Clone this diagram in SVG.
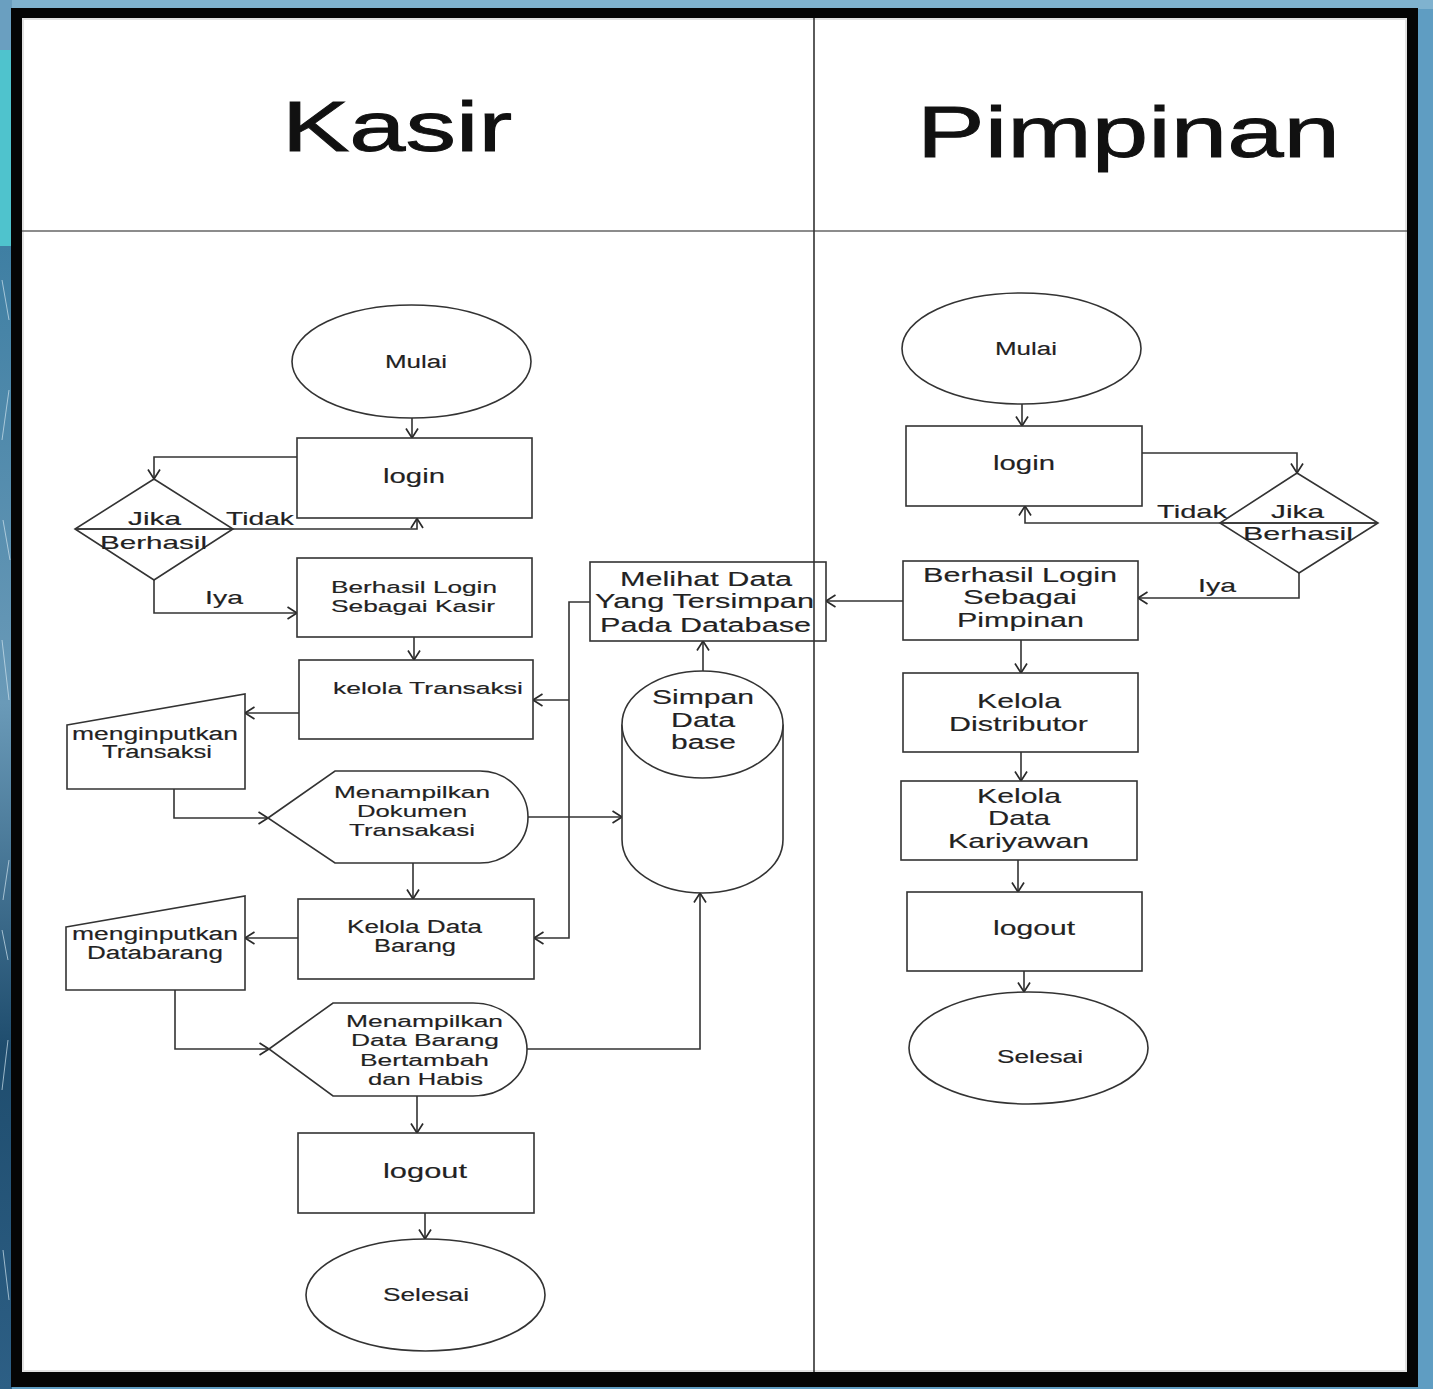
<svg xmlns="http://www.w3.org/2000/svg" width="1433" height="1389" viewBox="0 0 1433 1389">
<defs>
<linearGradient id="leftbg" x1="0" y1="0" x2="0" y2="1">
<stop offset="0" stop-color="#3f7fa3"/>
<stop offset="0.4" stop-color="#6a9ab8"/>
<stop offset="0.7" stop-color="#1f4d6e"/>
<stop offset="1" stop-color="#2d5f85"/>
</linearGradient>
<marker id="ar" viewBox="0 0 14 14" refX="12" refY="7" markerWidth="14" markerHeight="14" orient="auto" markerUnits="userSpaceOnUse">
<path d="M2.5,1 L12,7 L2.5,13" fill="none" stroke="#2a2a2a" stroke-width="1.7"/>
</marker>
</defs>
<style>
.sh{fill:#fff;stroke:#333;stroke-width:1.6}
.cn{fill:none;stroke:#333;stroke-width:1.6;marker-end:url(#ar)}
.ln{fill:none;stroke:#333;stroke-width:1.6}
.t{font-family:"Liberation Sans",Arial,sans-serif;fill:#222;stroke:#222;stroke-width:0.15}
.hd{font-family:"Liberation Sans",Arial,sans-serif;fill:#111;stroke:#111;stroke-width:0.9}
</style>
<!-- background frame -->
<rect x="0" y="0" width="1433" height="1389" fill="#5f9dc2"/>
<rect x="0" y="0" width="1433" height="9" fill="#7fb2cf"/>
<rect x="0" y="0" width="12" height="50" fill="#6a9fc0"/>
<rect x="0" y="50" width="12" height="196" fill="#4fc3cd"/>
<rect x="0" y="246" width="12" height="1143" fill="url(#leftbg)"/>
<g stroke="#cfe3ee" stroke-width="1" opacity="0.7">
<line x1="2" y1="280" x2="9" y2="320"/><line x1="9" y1="390" x2="2" y2="440"/>
<line x1="3" y1="520" x2="10" y2="560"/><line x1="2" y1="640" x2="9" y2="700"/>
<line x1="9" y1="860" x2="3" y2="900"/><line x1="2" y1="930" x2="8" y2="960"/>
<line x1="8" y1="1040" x2="2" y2="1090"/><line x1="3" y1="1250" x2="9" y2="1300"/>
</g>
<rect x="11" y="8" width="1407" height="1379" fill="#050505"/>
<rect x="22" y="18" width="1385" height="1354" fill="#ffffff"/>
<rect x="23" y="19" width="1383" height="1352" fill="none" stroke="#e2e2e2" stroke-width="2"/>

<!-- lanes -->
<g id="lanes">
<line x1="22" y1="231" x2="1407" y2="231" stroke="#666" stroke-width="1.5"/>
<text class="hd" x="282" y="151" font-size="70" textLength="230" lengthAdjust="spacingAndGlyphs">Kasir</text>
<text class="hd" x="917" y="157" font-size="73" textLength="423" lengthAdjust="spacingAndGlyphs">Pimpinan</text>
</g>

<!-- connectors -->
<g id="connectors">
<path class="cn" d="M412,418 V438"/>
<path class="cn" d="M297,457 H154 V479"/>
<path class="cn" d="M75,529 H417 V518.5"/>
<path class="cn" d="M154,580 V613 H297"/>
<path class="cn" d="M414,637 V660"/>
<path class="cn" d="M299,713 H245"/>
<path class="cn" d="M174,789 V818 H268"/>
<path class="cn" d="M528,817 H622"/>
<path class="cn" d="M413,863 V899"/>
<path class="cn" d="M590,602 H569 V938 H534"/>
<path class="cn" d="M569,700 H533"/>
<path class="cn" d="M298,938 H245"/>
<path class="cn" d="M175,990 V1049 H269"/>
<path class="cn" d="M527,1049 H700 V893"/>
<path class="cn" d="M703,671 V641"/>
<path class="cn" d="M417,1096 V1133"/>
<path class="cn" d="M425,1213 V1239"/>
<path class="cn" d="M1022,404 V426"/>
<path class="cn" d="M1142,453 H1297 V473"/>
<path class="cn" d="M1378,523 H1025 V506"/>
<path class="cn" d="M1299,573 V598 H1138"/>
<path class="cn" d="M903,601 H826"/>
<path class="cn" d="M1021,640 V673"/>
<path class="cn" d="M1021,752 V781"/>
<path class="cn" d="M1018,860 V892"/>
<path class="cn" d="M1024,971 V992"/>
</g>

<!-- Kasir nodes -->
<g id="k-mulai">
<ellipse class="sh" cx="411.5" cy="361.5" rx="119.5" ry="56.5"/>
<text class="t" x="385" y="368" font-size="18" textLength="62" lengthAdjust="spacingAndGlyphs">Mulai</text>
</g>
<g id="k-login">
<rect class="sh" x="297" y="438" width="235" height="80"/>
<text class="t" x="383" y="483" font-size="21" textLength="62" lengthAdjust="spacingAndGlyphs">login</text>
</g>
<g id="k-jika">
<polygon class="sh" points="154,479 233,529 154,580 75,529" fill-opacity="0"/>
<line class="ln" x1="75" y1="529" x2="233" y2="529"/>
<text class="t" x="128" y="525" font-size="19" textLength="53" lengthAdjust="spacingAndGlyphs">Jika</text>
<text class="t" x="100" y="549" font-size="19" textLength="107" lengthAdjust="spacingAndGlyphs">Berhasil</text>
</g>
<g id="k-labels">
<text class="t" x="226" y="525" font-size="19" textLength="68" lengthAdjust="spacingAndGlyphs">Tidak</text>
<text class="t" x="205" y="604" font-size="19" textLength="38" lengthAdjust="spacingAndGlyphs">Iya</text>
</g>
<g id="k-berhasil">
<rect class="sh" x="297" y="558" width="235" height="79"/>
<text class="t" x="331" y="593" font-size="17" textLength="166" lengthAdjust="spacingAndGlyphs">Berhasil Login</text>
<text class="t" x="331" y="612" font-size="17" textLength="164" lengthAdjust="spacingAndGlyphs">Sebagai Kasir</text>
</g>
<g id="k-kelola-transaksi">
<rect class="sh" x="299" y="660" width="234" height="79"/>
<text class="t" x="333" y="694" font-size="17" textLength="190" lengthAdjust="spacingAndGlyphs">kelola Transaksi</text>
</g>
<g id="k-input-transaksi">
<polygon class="sh" points="67,725 245,694 245,789 67,789"/>
<text class="t" x="72" y="740" font-size="18" textLength="166" lengthAdjust="spacingAndGlyphs">menginputkan</text>
<text class="t" x="102" y="758" font-size="18" textLength="110" lengthAdjust="spacingAndGlyphs">Transaksi</text>
</g>
<g id="k-dokumen">
<path class="sh" d="M268,818 L335,771 H480 A48,46 0 0 1 480,863 H335 Z"/>
<text class="t" x="334" y="798" font-size="17" textLength="156" lengthAdjust="spacingAndGlyphs">Menampilkan</text>
<text class="t" x="357" y="817" font-size="17" textLength="110" lengthAdjust="spacingAndGlyphs">Dokumen</text>
<text class="t" x="349" y="836" font-size="17" textLength="126" lengthAdjust="spacingAndGlyphs">Transakasi</text>
</g>
<g id="k-kelola-barang">
<rect class="sh" x="298" y="899" width="236" height="80"/>
<text class="t" x="347" y="933" font-size="17.5" textLength="135" lengthAdjust="spacingAndGlyphs">Kelola Data</text>
<text class="t" x="374" y="952" font-size="17.5" textLength="82" lengthAdjust="spacingAndGlyphs">Barang</text>
</g>
<g id="k-input-barang">
<polygon class="sh" points="66,927 245,896 245,990 66,990"/>
<text class="t" x="72" y="940" font-size="18" textLength="166" lengthAdjust="spacingAndGlyphs">menginputkan</text>
<text class="t" x="87" y="959" font-size="18" textLength="136" lengthAdjust="spacingAndGlyphs">Databarang</text>
</g>
<g id="k-tampil-barang">
<path class="sh" d="M269,1049 L333,1003 H473 A54,46.5 0 0 1 473,1096 H333 Z"/>
<text class="t" x="346" y="1027" font-size="17" textLength="157" lengthAdjust="spacingAndGlyphs">Menampilkan</text>
<text class="t" x="351" y="1046" font-size="17" textLength="148" lengthAdjust="spacingAndGlyphs">Data Barang</text>
<text class="t" x="360" y="1066" font-size="17" textLength="129" lengthAdjust="spacingAndGlyphs">Bertambah</text>
<text class="t" x="368" y="1085" font-size="17" textLength="115" lengthAdjust="spacingAndGlyphs">dan Habis</text>
</g>
<g id="k-logout">
<rect class="sh" x="298" y="1133" width="236" height="80"/>
<text class="t" x="383" y="1178" font-size="21" textLength="84" lengthAdjust="spacingAndGlyphs">logout</text>
</g>
<g id="k-selesai">
<ellipse class="sh" cx="425.5" cy="1295" rx="119.5" ry="56"/>
<text class="t" x="383" y="1301" font-size="18" textLength="86" lengthAdjust="spacingAndGlyphs">Selesai</text>
</g>
<g id="k-database">
<path class="sh" d="M622,724.5 V839.5 A80.5,53.5 0 0 0 783,839.5 V724.5"/>
<ellipse class="sh" cx="702.5" cy="724.5" rx="80.5" ry="53.5"/>
<text class="t" x="652" y="704" font-size="20" textLength="102" lengthAdjust="spacingAndGlyphs">Simpan</text>
<text class="t" x="671" y="727" font-size="20" textLength="64" lengthAdjust="spacingAndGlyphs">Data</text>
<text class="t" x="671" y="749" font-size="20" textLength="65" lengthAdjust="spacingAndGlyphs">base</text>
</g>
<g id="melihat-data">
<rect class="sh" x="590" y="562" width="236" height="79"/>
<text class="t" x="620" y="586" font-size="20" textLength="172" lengthAdjust="spacingAndGlyphs">Melihat Data</text>
<text class="t" x="595" y="608" font-size="20" textLength="219" lengthAdjust="spacingAndGlyphs">Yang Tersimpan</text>
<text class="t" x="600" y="632" font-size="20" textLength="211" lengthAdjust="spacingAndGlyphs">Pada Database</text>
</g>

<!-- lane divider on top -->
<line x1="814" y1="18" x2="814" y2="1372" stroke="#333" stroke-width="1.6"/>

<!-- Pimpinan nodes -->
<g id="p-mulai">
<ellipse class="sh" cx="1021.5" cy="348.5" rx="119.5" ry="55.5"/>
<text class="t" x="995" y="355" font-size="18" textLength="62" lengthAdjust="spacingAndGlyphs">Mulai</text>
</g>
<g id="p-login">
<rect class="sh" x="906" y="426" width="236" height="80"/>
<text class="t" x="993" y="470" font-size="21" textLength="62" lengthAdjust="spacingAndGlyphs">login</text>
</g>
<g id="p-jika">
<polygon class="sh" points="1297,473 1378,523 1299,573 1220,523" fill-opacity="0"/>
<line class="ln" x1="1220" y1="523" x2="1378" y2="523"/>
<text class="t" x="1271" y="518" font-size="19" textLength="53" lengthAdjust="spacingAndGlyphs">Jika</text>
<text class="t" x="1243" y="540" font-size="19" textLength="110" lengthAdjust="spacingAndGlyphs">Berhasil</text>
</g>
<g id="p-labels">
<text class="t" x="1157" y="518" font-size="19" textLength="70" lengthAdjust="spacingAndGlyphs">Tidak</text>
<text class="t" x="1198" y="592" font-size="19" textLength="38" lengthAdjust="spacingAndGlyphs">Iya</text>
</g>
<g id="p-berhasil">
<rect class="sh" x="903" y="561" width="235" height="79"/>
<text class="t" x="923" y="582" font-size="20" textLength="194" lengthAdjust="spacingAndGlyphs">Berhasil Login</text>
<text class="t" x="963" y="604" font-size="20" textLength="114" lengthAdjust="spacingAndGlyphs">Sebagai</text>
<text class="t" x="957" y="627" font-size="20" textLength="127" lengthAdjust="spacingAndGlyphs">Pimpinan</text>
</g>
<g id="p-distributor">
<rect class="sh" x="903" y="673" width="235" height="79"/>
<text class="t" x="977" y="708" font-size="21" textLength="84" lengthAdjust="spacingAndGlyphs">Kelola</text>
<text class="t" x="949" y="731" font-size="21" textLength="139" lengthAdjust="spacingAndGlyphs">Distributor</text>
</g>
<g id="p-kariyawan">
<rect class="sh" x="901" y="781" width="236" height="79"/>
<text class="t" x="977" y="803" font-size="21" textLength="84" lengthAdjust="spacingAndGlyphs">Kelola</text>
<text class="t" x="988" y="825" font-size="21" textLength="62" lengthAdjust="spacingAndGlyphs">Data</text>
<text class="t" x="948" y="848" font-size="21" textLength="141" lengthAdjust="spacingAndGlyphs">Kariyawan</text>
</g>
<g id="p-logout">
<rect class="sh" x="907" y="892" width="235" height="79"/>
<text class="t" x="993" y="935" font-size="21" textLength="82" lengthAdjust="spacingAndGlyphs">logout</text>
</g>
<g id="p-selesai">
<ellipse class="sh" cx="1028.5" cy="1048" rx="119.5" ry="56"/>
<text class="t" x="997" y="1063" font-size="18" textLength="86" lengthAdjust="spacingAndGlyphs">Selesai</text>
</g>
</svg>
